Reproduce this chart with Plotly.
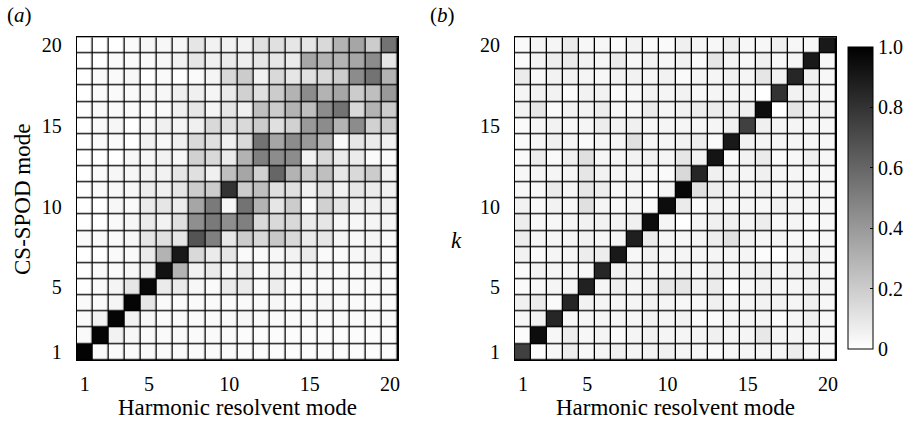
import plotly.graph_objects as go

modes = list(range(1, 21))
tick_vals = [1, 5, 10, 15, 20]
cbar_vals = [0, 0.2, 0.4, 0.6, 0.8, 1.0]
cbar_text = ["0", "0.2", "0.4", "0.6", "0.8", "1.0"]

# Panel (a): projection of CS-SPOD modes on harmonic resolvent modes.
# Rows listed from mode 20 (top) down to mode 1 (bottom); columns are modes 1..20.
proj_a_rows = [
    [0, 0, 0, 0.02, 0.03, 0.03, 0.03, 0.10, 0.05, 0.05, 0.05, 0.12, 0.12, 0.10, 0.10, 0.15, 0.30, 0.35, 0.20, 0.55],
    [0, 0, 0.02, 0.02, 0.02, 0.03, 0.05, 0.10, 0.06, 0.08, 0.07, 0.10, 0.10, 0.08, 0.35, 0.30, 0.30, 0.35, 0.45, 0.10],
    [0, 0.02, 0.02, 0.03, 0, 0.02, 0, 0.02, 0.04, 0.15, 0.20, 0.05, 0.15, 0.10, 0.12, 0.15, 0.20, 0.45, 0.55, 0.30],
    [0, 0.02, 0.02, 0.02, 0.03, 0.03, 0.06, 0.06, 0.04, 0.08, 0.18, 0.12, 0.20, 0.30, 0.45, 0.30, 0.35, 0.20, 0.25, 0.40],
    [0, 0.02, 0.02, 0.02, 0.02, 0.02, 0.06, 0.10, 0.04, 0.10, 0.06, 0.25, 0.20, 0.30, 0.25, 0.45, 0.55, 0.15, 0.30, 0.20],
    [0, 0.02, 0.03, 0, 0.03, 0.06, 0.04, 0.06, 0.15, 0.12, 0.15, 0.20, 0.12, 0.18, 0.40, 0.45, 0.30, 0.45, 0.18, 0.20],
    [0, 0.02, 0.02, 0, 0.05, 0.03, 0.06, 0.15, 0.12, 0.06, 0.15, 0.55, 0.35, 0.45, 0.40, 0.30, 0.02, 0.10, 0.08, 0.05],
    [0, 0, 0, 0.03, 0.03, 0.05, 0.03, 0.18, 0.15, 0.08, 0.30, 0.50, 0.45, 0.45, 0.05, 0.15, 0.08, 0.08, 0.02, 0.02],
    [0, 0.02, 0.03, 0.03, 0.05, 0.05, 0.10, 0.12, 0.06, 0.25, 0.35, 0.18, 0.60, 0.30, 0.20, 0.25, 0.10, 0.15, 0.20, 0.05],
    [0, 0.02, 0.03, 0.03, 0.07, 0.06, 0.10, 0.20, 0.20, 0.80, 0.20, 0.25, 0.12, 0.12, 0.05, 0.12, 0.05, 0.10, 0.08, 0.05],
    [0, 0, 0.03, 0.02, 0.08, 0.10, 0.07, 0.35, 0.52, 0.03, 0.55, 0.30, 0.10, 0.20, 0.02, 0.18, 0.10, 0.06, 0.06, 0.06],
    [0, 0, 0.02, 0.03, 0.08, 0.05, 0.12, 0.44, 0.52, 0.44, 0.50, 0.15, 0.15, 0.15, 0.08, 0.10, 0.03, 0.03, 0.04, 0.04],
    [0.02, 0.02, 0.02, 0.03, 0.10, 0.12, 0.10, 0.67, 0.50, 0.09, 0.20, 0.15, 0.22, 0.15, 0.08, 0.10, 0.04, 0.03, 0.04, 0.02],
    [0, 0, 0.02, 0.02, 0.08, 0.30, 0.90, 0.15, 0.08, 0.10, 0.02, 0.02, 0.03, 0.05, 0.08, 0.02, 0.02, 0.03, 0.04, 0.02],
    [0, 0.02, 0.02, 0.03, 0.06, 0.93, 0.30, 0.05, 0.08, 0.03, 0.08, 0.02, 0.05, 0.03, 0.03, 0.03, 0.02, 0.02, 0.03, 0.02],
    [0, 0.02, 0.04, 0.10, 0.97, 0.08, 0.08, 0.03, 0.02, 0.08, 0.08, 0.02, 0.07, 0.02, 0.02, 0.02, 0.02, 0.02, 0.02, 0.02],
    [0.02, 0.02, 0.04, 0.98, 0.10, 0.02, 0.02, 0.02, 0.02, 0.02, 0.02, 0.02, 0.03, 0.02, 0.02, 0.03, 0.02, 0.02, 0.02, 0.02],
    [0.02, 0.05, 0.98, 0.05, 0.03, 0.02, 0.02, 0.02, 0.02, 0.02, 0.03, 0.02, 0.02, 0.02, 0.02, 0.02, 0.02, 0.02, 0.02, 0.02],
    [0.02, 0.98, 0.05, 0.03, 0.02, 0.02, 0.02, 0.02, 0.02, 0.02, 0.01, 0.01, 0.01, 0.01, 0.01, 0.01, 0.01, 0.01, 0.01, 0.01],
    [0.99, 0.02, 0.02, 0.02, 0.02, 0.02, 0.02, 0.02, 0.02, 0.02, 0.01, 0.01, 0.01, 0.01, 0.01, 0.01, 0.01, 0.01, 0.01, 0.01],
]

# Panel (b): projection for mode index k (rows from k = 20 down to k = 1).
proj_b_rows = [
    [0.02, 0.04, 0.04, 0.08, 0.03, 0.03, 0.02, 0.05, 0.02, 0.02, 0.06, 0.04, 0.03, 0.07, 0.03, 0.03, 0.06, 0.03, 0.03, 0.90],
    [0.02, 0.05, 0.07, 0.08, 0.05, 0.04, 0.08, 0.03, 0.05, 0.04, 0.05, 0.02, 0.10, 0.04, 0.03, 0.06, 0.03, 0.04, 0.90, 0.03],
    [0.08, 0.03, 0.05, 0.05, 0.04, 0.03, 0.05, 0.05, 0.04, 0.05, 0.02, 0.04, 0.04, 0.05, 0.04, 0.10, 0.05, 0.85, 0.06, 0.03],
    [0.04, 0.05, 0.05, 0.02, 0.05, 0.05, 0.02, 0.03, 0.05, 0.04, 0.05, 0.03, 0.04, 0.04, 0.04, 0.00, 0.80, 0.05, 0.06, 0.03],
    [0.05, 0.10, 0.02, 0.05, 0.05, 0.07, 0.03, 0.03, 0.08, 0.04, 0.05, 0.07, 0.08, 0.06, 0.06, 0.95, 0.00, 0.10, 0.05, 0.05],
    [0.02, 0.04, 0.05, 0.03, 0.04, 0.07, 0.05, 0.06, 0.03, 0.04, 0.04, 0.04, 0.04, 0.06, 0.75, 0.06, 0.04, 0.04, 0.04, 0.03],
    [0.02, 0.04, 0.06, 0.04, 0.02, 0.04, 0.04, 0.12, 0.04, 0.04, 0.05, 0.07, 0.02, 0.90, 0.05, 0.04, 0.04, 0.04, 0.04, 0.03],
    [0.02, 0.07, 0.02, 0.06, 0.12, 0.04, 0.04, 0.05, 0.05, 0.04, 0.10, 0.05, 0.92, 0.02, 0.05, 0.08, 0.02, 0.03, 0.06, 0.03],
    [0.03, 0.04, 0.04, 0.04, 0.10, 0.05, 0.04, 0.04, 0.03, 0.02, 0.15, 0.85, 0.06, 0.05, 0.04, 0.06, 0.04, 0.04, 0.03, 0.03],
    [0.03, 0.03, 0.08, 0.04, 0.10, 0.07, 0.03, 0.04, 0.01, 0.04, 0.97, 0.12, 0.07, 0.05, 0.04, 0.05, 0.03, 0.04, 0.04, 0.03],
    [0.05, 0.03, 0.05, 0.03, 0.12, 0.04, 0.03, 0.04, 0.02, 0.95, 0.08, 0.02, 0.05, 0.04, 0.04, 0.03, 0.05, 0.04, 0.04, 0.03],
    [0.07, 0.03, 0.03, 0.04, 0.05, 0.05, 0.05, 0.06, 0.95, 0.04, 0.00, 0.04, 0.06, 0.06, 0.04, 0.07, 0.03, 0.04, 0.02, 0.03],
    [0.07, 0.04, 0.04, 0.04, 0.05, 0.04, 0.04, 0.88, 0.08, 0.04, 0.03, 0.04, 0.07, 0.12, 0.05, 0.04, 0.04, 0.03, 0.02, 0.03],
    [0.05, 0.02, 0.04, 0.04, 0.07, 0.07, 0.90, 0.03, 0.05, 0.04, 0.04, 0.04, 0.04, 0.04, 0.04, 0.01, 0.00, 0.04, 0.07, 0.03],
    [0.02, 0.05, 0.04, 0.04, 0.03, 0.85, 0.06, 0.05, 0.04, 0.04, 0.05, 0.03, 0.06, 0.04, 0.05, 0.06, 0.04, 0.05, 0.05, 0.03],
    [0.02, 0.03, 0.04, 0.04, 0.87, 0.04, 0.07, 0.04, 0.05, 0.10, 0.10, 0.05, 0.08, 0.01, 0.03, 0.05, 0.04, 0.04, 0.05, 0.04],
    [0.06, 0.08, 0.02, 0.85, 0.05, 0.04, 0.04, 0.04, 0.05, 0.04, 0.03, 0.03, 0.06, 0.04, 0.04, 0.05, 0.05, 0.04, 0.06, 0.03],
    [0.03, 0.05, 0.85, 0.03, 0.04, 0.04, 0.04, 0.04, 0.05, 0.04, 0.05, 0.02, 0.02, 0.04, 0.04, 0.04, 0.01, 0.04, 0.06, 0.03],
    [0.01, 0.95, 0.03, 0.07, 0.03, 0.04, 0.02, 0.04, 0.05, 0.04, 0.04, 0.04, 0.06, 0.04, 0.04, 0.09, 0.04, 0.04, 0.04, 0.03],
    [0.75, 0.01, 0.03, 0.07, 0.03, 0.04, 0.06, 0.04, 0.05, 0.06, 0.04, 0.04, 0.02, 0.03, 0.04, 0.04, 0.04, 0.07, 0.03, 0.02],
]

W, H = 912, 426
FONT = "Liberation Serif, Times New Roman, serif"
TICK_SIZE = 20
TITLE_SIZE = 23
grey_scale = [[0.0, "#ffffff"], [1.0, "#000000"]]


def px_x(v):
    return v / W


def px_y(v):
    return 1 - v / H


fig = go.Figure()

fig.add_trace(go.Heatmap(
    z=proj_a_rows[::-1], x=modes, y=modes,
    colorscale=grey_scale, zmin=0, zmax=1,
    xgap=1.3, ygap=1.3, showscale=False,
    xaxis="x", yaxis="y",
))

fig.add_trace(go.Heatmap(
    z=proj_b_rows[::-1], x=modes, y=modes,
    colorscale=grey_scale, zmin=0, zmax=1,
    xgap=1.3, ygap=1.3, showscale=True,
    xaxis="x2", yaxis="y2",
    colorbar=dict(
        x=px_x(848), xanchor="left", xref="paper",
        y=px_y(349), yanchor="bottom", yref="paper",
        len=302, lenmode="pixels",
        thickness=25, thicknessmode="pixels",
        outlinecolor="#000", outlinewidth=1,
        tickvals=cbar_vals, ticktext=cbar_text,
        ticks="inside", ticklen=3, tickcolor="#000",
        tickfont=dict(family=FONT, size=TICK_SIZE, color="#000"),
        ypad=0, xpad=0,
    ),
))

axis_common = dict(
    range=[0.5, 20.5],
    tickvals=tick_vals,
    ticks="",
    showgrid=False, zeroline=False,
    showline=True, mirror=True, linecolor="#000", linewidth=1,
    tickfont=dict(family=FONT, size=TICK_SIZE, color="#000"),
    fixedrange=True,
)

y0, y1 = px_y(360), px_y(37.3)

fig.update_layout(
    width=W, height=H,
    margin=dict(l=0, r=0, t=0, b=0, autoexpand=False),
    paper_bgcolor="#ffffff",
    plot_bgcolor="#000000",
    font=dict(family=FONT, color="#000"),
    xaxis=dict(axis_common, domain=[px_x(76.7), px_x(398)], anchor="y", ticklabelstandoff=6),
    yaxis=dict(axis_common, domain=[y0, y1], anchor="x", ticklabelstandoff=10),
    xaxis2=dict(axis_common, domain=[px_x(515), px_x(836)], anchor="y2", ticklabelstandoff=6),
    yaxis2=dict(axis_common, domain=[y0, y1], anchor="x2", ticklabelstandoff=10),
    annotations=[
        dict(text="(<i>a</i>)", x=px_x(19), y=px_y(15), font=dict(family=FONT, size=21)),
        dict(text="(<i>b</i>)", x=px_x(442), y=px_y(15), font=dict(family=FONT, size=21)),
        dict(text="Harmonic resolvent mode", x=px_x((76.7 + 398) / 2), y=px_y(407)),
        dict(text="Harmonic resolvent mode", x=px_x((515 + 836) / 2), y=px_y(407)),
        dict(text="CS-SPOD mode", x=px_x(22), y=px_y(200), textangle=-90),
        dict(text="<i>k</i>", x=px_x(456), y=px_y(240)),
    ],
)
fig.update_annotations(xref="paper", yref="paper", showarrow=False,
                       xanchor="center", yanchor="middle")
for ann in fig.layout.annotations:
    if ann.font.size is None:
        ann.font = dict(family=FONT, size=TITLE_SIZE, color="#000")

fig.write_html("out.html")
